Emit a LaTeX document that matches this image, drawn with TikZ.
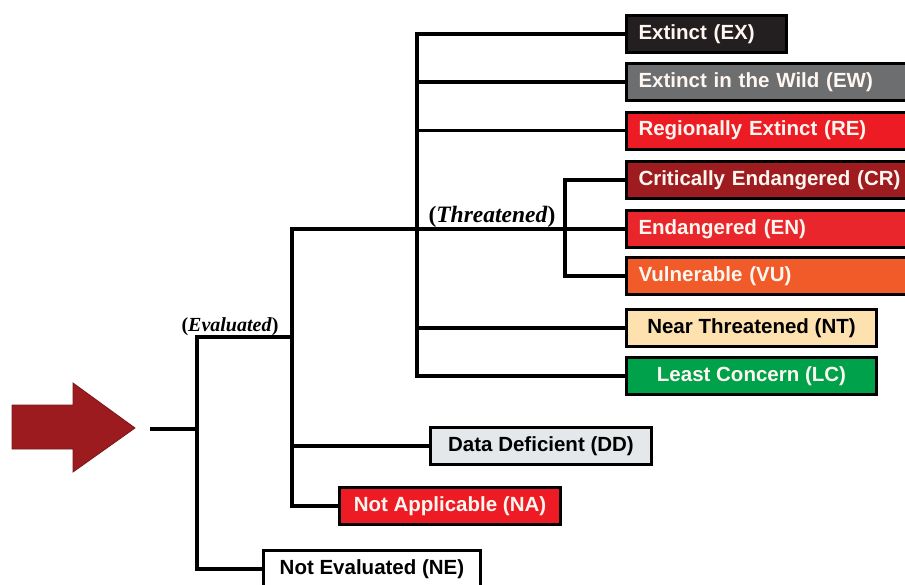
\documentclass[tikz,border=0pt]{standalone}
\usepackage{fontspec}
\setmainfont{Liberation Sans}
\newfontfamily\labserif{Liberation Serif}
\definecolor{cEX}{HTML}{231F20}
\definecolor{cEW}{HTML}{6D6E70}
\definecolor{cRE}{HTML}{ED1C24}
\definecolor{cCR}{HTML}{9E1B20}
\definecolor{cEN}{HTML}{E8262B}
\definecolor{cVU}{HTML}{F15A29}
\definecolor{cNT}{HTML}{FDE2B0}
\definecolor{cLC}{HTML}{00A14B}
\definecolor{cDD}{HTML}{E5E8EB}
\definecolor{cNA}{HTML}{ED1C24}
\definecolor{cArrow}{HTML}{9B1B1F}
\definecolor{wt}{HTML}{FFF6F0}
\begin{document}
\begin{tikzpicture}[x=1pt,y=-1pt,
  box/.style={draw=black, line width=3pt, minimum height=37pt, inner xsep=12pt, inner ysep=0pt, anchor=west, font=\fontsize{20.5}{24}\selectfont\bfseries},
  lbox/.style={box, align=left, text width=#1},
  cbox/.style={box, minimum width=#1, align=center},
  conn/.style={line width=3.6pt, line join=miter},
  lab/.style={anchor=base}]
\useasboundingbox (0,0) rectangle (905,584);
\clip (0,0) rectangle (905,584);
\fill[white] (0,0) rectangle (905,584);

% arrow
\fill[cArrow, draw=cArrow!80!black, line width=0.8pt] (12,405) -- (73,405) -- (73,383) -- (135,428) -- (73,472) -- (73,449) -- (12,449) -- cycle;

% boxes
\node[lbox=136, fill=cEX, text=wt] (EX) at (625,34) {Extinct (EX)};
\node[lbox=270, fill=cEW, text=wt] (EW) at (625,82) {Extinct in the Wild (EW)};
\node[lbox=270, fill=cRE, text=wt] (RE) at (625,130.5) {Regionally Extinct (RE)};
\node[lbox=270, fill=cCR, text=wt] (CR) at (625,180) {Critically Endangered (CR)};
\node[lbox=270, fill=cEN, text=wt] (EN) at (625,229) {Endangered (EN)};
\node[lbox=270, fill=cVU, text=wt] (VU) at (625,276) {Vulnerable (VU)};
\node[cbox=250, fill=cNT] (NT) at (625,328) {Near Threatened (NT)};
\node[cbox=250, fill=cLC, text=wt] (LC) at (625,376) {Least Concern (LC)};
\node[cbox=221, fill=cDD] (DD) at (429,446) {Data Deficient (DD)};
\node[cbox=221, fill=cNA, text=wt] (NA) at (338,506) {Not Applicable (NA)};
\node[cbox=217, fill=white] (NE) at (262,569) {Not Evaluated (NE)};

% junctions
\coordinate (r0) at (150,429);
\coordinate (r1) at (197,429);
\coordinate (ev) at (197,337);
\coordinate (ev2) at (292,337);
\coordinate (th) at (292,229);
\coordinate (tv) at (417,229);
\coordinate (cv) at (565,229);

% connectors
\draw[conn] (r0) -- (r1);
\draw[conn] (NE.west) -| (ev) -- (ev2);
\draw[conn] (NA.west) -| (th) -- (cv);
\draw[conn] (DD.west) -- (DD.west -| ev2);
\draw[conn] (EX.west) -| (tv) |- (LC.west);
\draw[conn] (EW.west) -- (EW.west -| tv);
\draw[conn] (RE.west) -- (RE.west -| tv);
\draw[conn] (NT.west) -- (NT.west -| tv);
\draw[conn] (CR.west) -| (cv) |- (VU.west);
\draw[conn] (EN.west) -- (cv);

% labels
\node[lab, font=\fontsize{20}{24}\selectfont\labserif\bfseries] (evl) at (230,331) {(\textit{Evaluated})};
\node[lab, font=\fontsize{23.5}{27}\selectfont\labserif\bfseries] (thl) at (492,222) {(\textit{Threatened})};
\end{tikzpicture}
\end{document}
